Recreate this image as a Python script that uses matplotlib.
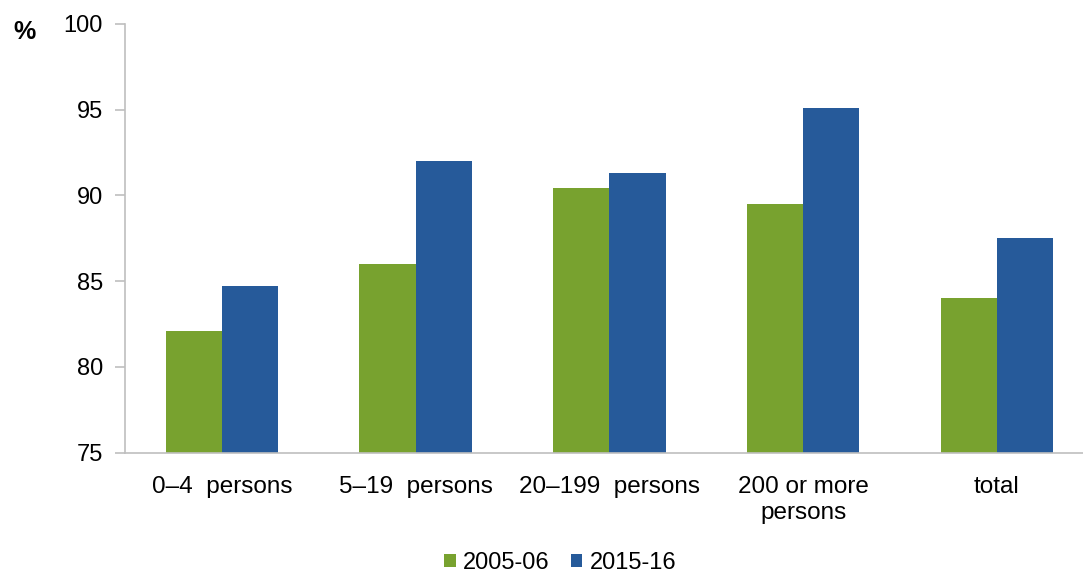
import numpy as np
import matplotlib.pyplot as plt

plt.rcParams['font.family'] = ['Liberation Sans', 'DejaVu Sans']

categories = ['0–4  persons', '5–19  persons', '20–199  persons', '200 or more\npersons', 'total']
series_names = ['2005-06', '2015-16']
vals_2005 = [82.1, 86.0, 90.45, 89.5, 84.0]
vals_2015 = [84.7, 92.0, 91.3, 95.1, 87.5]
colors = ['#78A22F', '#265A9A']

fig = plt.figure(figsize=(10.83, 5.75), dpi=100)
ax = fig.add_axes([0.1154, 0.213, 0.8946, 0.7453])

x = np.arange(len(categories))
w = 0.29
ax.bar(x - w / 2, vals_2005, w, bottom=0, color=colors[0], label=series_names[0])
ax.bar(x + w / 2, vals_2015, w, bottom=0, color=colors[1], label=series_names[1])

ax.set_ylim(75, 100)
ax.set_xlim(-0.5, 4.5)
ax.set_yticks([75, 80, 85, 90, 95, 100])
ax.set_xticks(x)
ax.set_xticklabels(categories, fontsize=17.5, linespacing=1.25, va='top')

for s in ['top', 'right']:
    ax.spines[s].set_visible(False)
for s in ['left', 'bottom']:
    ax.spines[s].set_color('#BFBFBF')
    ax.spines[s].set_linewidth(1.2)

ax.tick_params(axis='y', labelsize=17, length=7, width=1.2, color='#BFBFBF', pad=9)
ax.tick_params(axis='x', length=0, pad=17)

fig.text(0.012, 0.945, '%', fontsize=18, fontweight='bold', ha='left', va='center')

fig.legend(loc='center', bbox_to_anchor=(0.517, 0.021), ncol=2, frameon=False,
           fontsize=17, handlelength=0.5, handleheight=0.5, handletextpad=0.3,
           columnspacing=0.9)

fig.savefig('out.png', dpi=100)
